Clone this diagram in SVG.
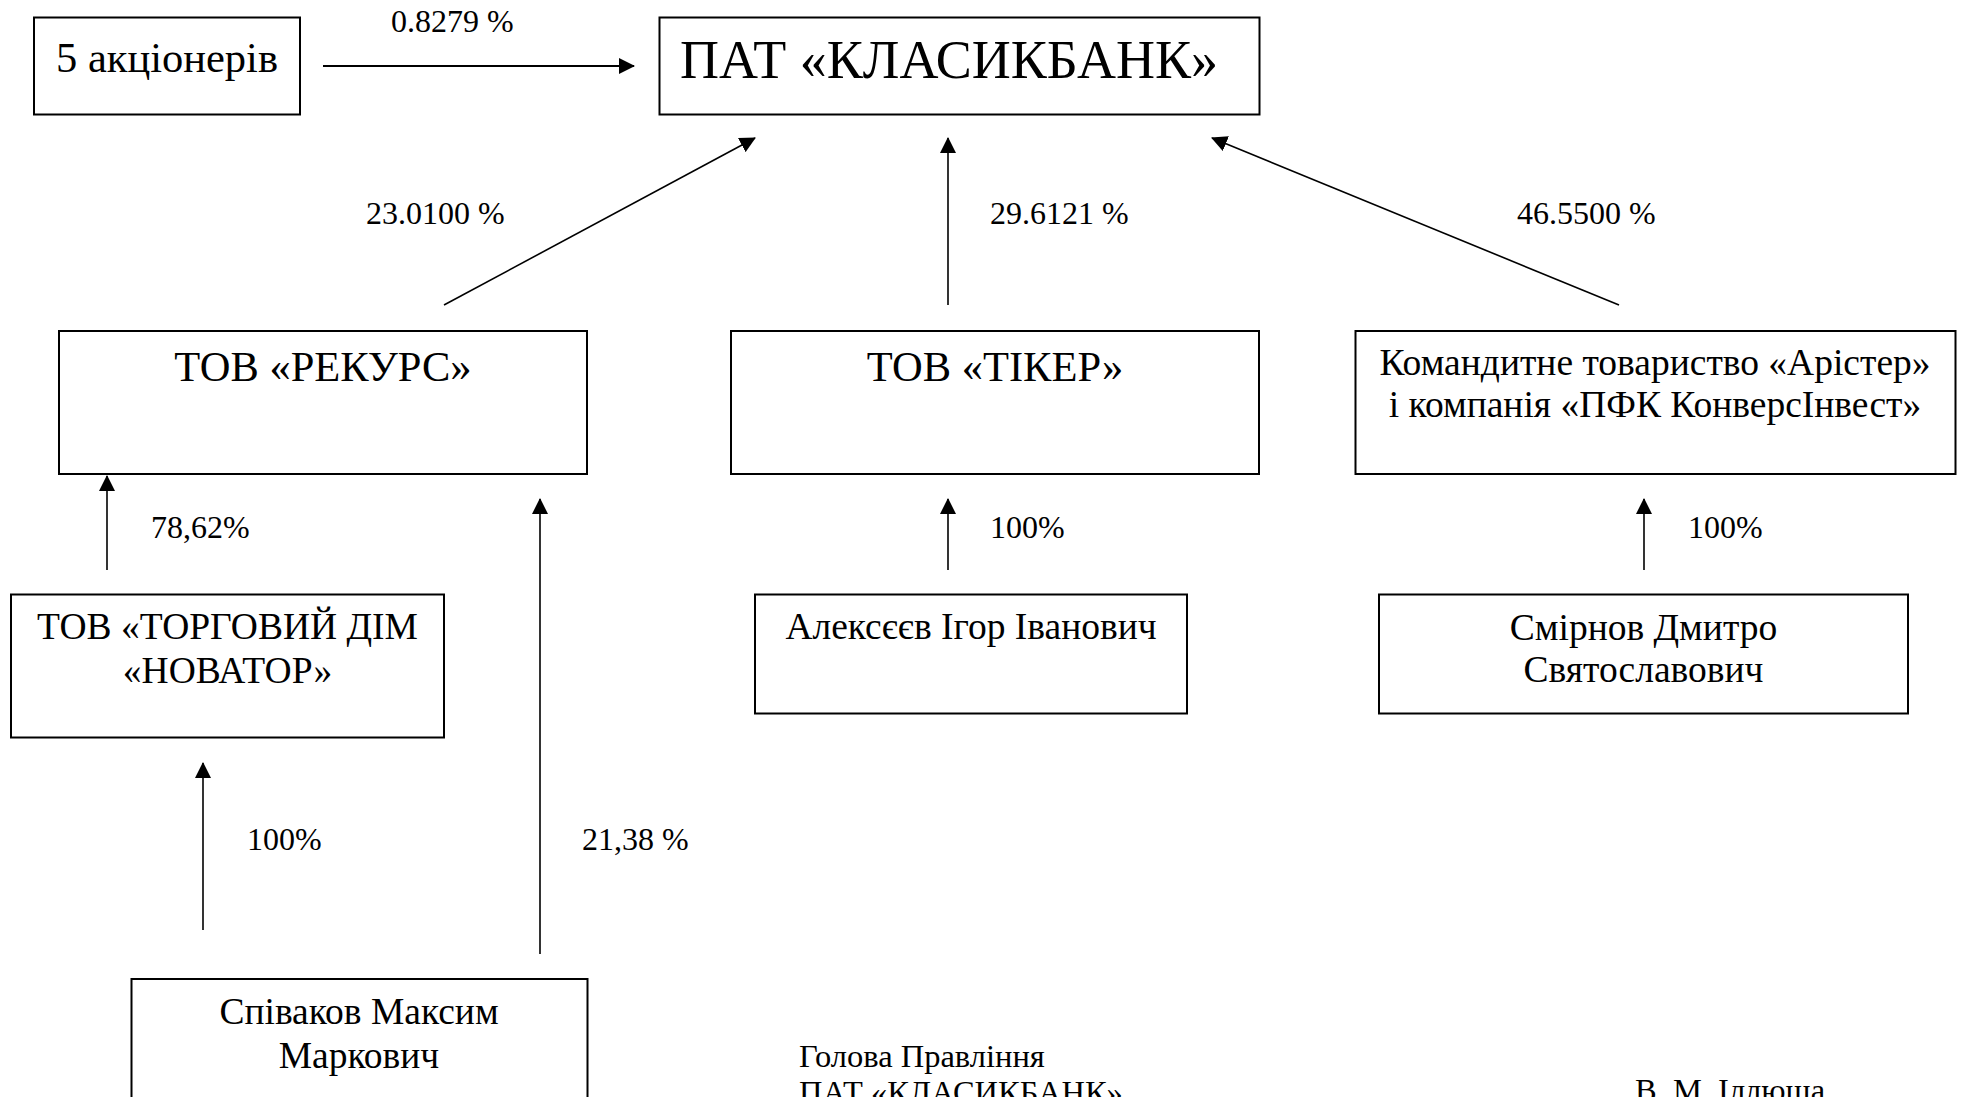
<svg xmlns="http://www.w3.org/2000/svg" width="1966" height="1097" viewBox="0 0 1966 1097">
<defs>
<marker id="ah" markerUnits="userSpaceOnUse" markerWidth="16" markerHeight="16" viewBox="0 0 16 16" refX="15" refY="8" orient="auto">
<path d="M0,0 L16,8 L0,16 Z" fill="#000"/>
</marker>
<style>
text{font-family:"Liberation Serif","Times New Roman",serif;fill:#000}
.box{fill:#fff;stroke:#000;stroke-width:2}
.big{font-size:42.5px}
.mid{font-size:37.5px}
.pct{font-size:32px}
.ftr{font-size:32.5px}
.c{text-anchor:middle}
.con line{stroke:#000;stroke-width:1.6;marker-end:url(#ah)}
</style>
</defs>
<rect width="1966" height="1097" fill="#fff"/>
<g id="n-5akc">
<rect class="box" x="34" y="17.5" width="266" height="97"/>
<text class="big c" x="167" y="72">5 акціонерів</text>
</g>
<g id="n-pat">
<rect class="box" x="659.5" y="17.5" width="600" height="97"/>
<text x="680" y="78" style="font-size:54px">ПАТ «КЛАСИКБАНК»</text>
</g>
<g id="n-rekurs">
<rect class="box" x="59" y="331" width="528" height="143"/>
<text class="big c" x="323" y="381">ТОВ «РЕКУРС»</text>
</g>
<g id="n-tiker">
<rect class="box" x="731" y="331" width="528" height="143"/>
<text class="big c" x="995" y="381">ТОВ «ТІКЕР»</text>
</g>
<g id="n-arister">
<rect class="box" x="1355.5" y="331" width="600" height="143"/>
<text class="mid c" x="1655" y="375">Командитне товариство «Арістер»</text>
<text class="mid c" x="1655" y="416.5">і компанія «ПФК КонверсІнвест»</text>
</g>
<g id="n-novator">
<rect class="box" x="11" y="594.5" width="433" height="143"/>
<text class="mid c" x="227.5" y="639">ТОВ «ТОРГОВИЙ ДІМ</text>
<text class="mid c" x="227.5" y="682.5">«НОВАТОР»</text>
</g>
<g id="n-alekseev">
<rect class="box" x="755" y="594.5" width="432" height="119"/>
<text class="mid c" x="971" y="639">Алексєєв Ігор Іванович</text>
</g>
<g id="n-smirnov">
<rect class="box" x="1379" y="594.5" width="529" height="119"/>
<text class="mid c" x="1643.5" y="640">Смірнов Дмитро</text>
<text class="mid c" x="1643.5" y="682">Святославович</text>
</g>
<g id="n-spivakov">
<rect class="box" x="131.5" y="979" width="456" height="200"/>
<text class="mid c" x="359" y="1023.5">Співаков Максим</text>
<text class="mid c" x="359" y="1068">Маркович</text>
</g>
<g id="connectors" class="con">
<line x1="323" y1="66" x2="634" y2="66" style="stroke-width:2.2"/>
<line x1="444" y1="305" x2="755" y2="138"/>
<line x1="948" y1="305" x2="948" y2="138"/>
<line x1="1619" y1="305" x2="1212" y2="138"/>
<line x1="107" y1="570" x2="107" y2="476"/>
<line x1="540" y1="954" x2="540" y2="499"/>
<line x1="203" y1="930" x2="203" y2="763"/>
<line x1="948" y1="570" x2="948" y2="499"/>
<line x1="1644" y1="570" x2="1644" y2="499"/>
</g>
<g id="labels" class="pct">
<text x="391" y="32">0.8279 %</text>
<text x="366" y="224">23.0100 %</text>
<text x="990" y="224">29.6121 %</text>
<text x="1517" y="224">46.5500 %</text>
<text x="151" y="537.5">78,62%</text>
<text x="990" y="537.5">100%</text>
<text x="1688" y="537.5">100%</text>
<text x="247" y="850">100%</text>
<text x="582" y="850">21,38 %</text>
</g>
<g id="footer" class="ftr">
<text x="799" y="1066.5">Голова Правління</text>
<text x="799" y="1103">ПАТ «КЛАСИКБАНК»</text>
<text x="1635" y="1101">В. М. Іллюша</text>
</g>
</svg>
